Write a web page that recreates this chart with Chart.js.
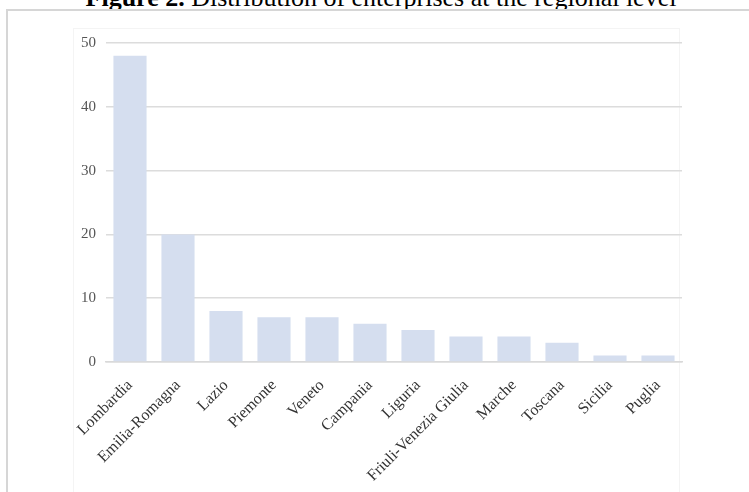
<!DOCTYPE html>
<html>
<head>
<meta charset="utf-8">
<script src="https://cdn.jsdelivr.net/npm/chart.js@4"></script>
<style>
  html, body { margin: 0; padding: 0; background: #fff; width: 749px; height: 492px; overflow: hidden; }
  #title {
    position: absolute; left: 0; top: -15px; width: 762px; text-align: center; line-height: 26px;
    font-family: 'Liberation Serif', serif; font-size: 26px; color: #000; white-space: nowrap;
  }
  #frame {
    position: absolute; left: 6px; top: 9px; width: 800px; height: 500px;
    border-left: 2px solid #d6d6d6; border-top: 2px solid #d6d6d6;
  }
  #inner {
    position: absolute; left: 73px; top: 28px; width: 605px; height: 500px;
    border: 1px solid #f4f4f4;
  }
  #wrap { position: absolute; left: 0; top: 0; width: 749px; height: 492px; }
</style>
</head>
<body>
<div id="title"><b>Figure 2.</b> Distribution of enterprises at the regional level</div>
<div id="frame"></div>
<div id="inner"></div>
<div id="wrap"><canvas id="regionChart" width="749" height="492"></canvas></div>
<script>
// Enterprises per region
const regions = ['Lombardia', 'Emilia-Romagna', 'Lazio', 'Piemonte', 'Veneto', 'Campania',
                 'Liguria', 'Friuli-Venezia Giulia', 'Marche', 'Toscana', 'Sicilia', 'Puglia'];
const enterprises = [48, 20, 8, 7, 7, 6, 5, 4, 4, 3, 1, 1];
const yTicks = [0, 10, 20, 30, 40, 50];

document.addEventListener('DOMContentLoaded', () => {
    const ctx = document.getElementById('regionChart').getContext('2d');

    new Chart(ctx, {
        type: 'bar',
        data: {
            labels: regions,
            datasets: [{
                data: enterprises,
                backgroundColor: '#d5deef',
                barPercentage: 0.69,
                categoryPercentage: 1.0
            }]
        },
        options: {
            responsive: false,
            animation: false,
            layout: { padding: { top: 43, right: 67, left: 0, bottom: 0 } },
            plugins: {
                legend: { display: false },
                tooltip: { enabled: false }
            },
            scales: {
                x: {
                    grid: { display: false },
                    border: { color: '#d9d9d9', width: 1.5 },
                    ticks: {
                        minRotation: 45,
                        maxRotation: 45,
                        padding: 6,
                        color: '#333333',
                        font: { family: 'Liberation Serif', size: 16 }
                    },
                    afterFit: (scale) => { scale.height = 130; }
                },
                y: {
                    min: 0,
                    max: yTicks[yTicks.length - 1],
                    afterBuildTicks: (scale) => { scale.ticks = yTicks.map(v => ({ value: v })); },
                    grid: { color: '#dcdcdc', lineWidth: 1.5, drawTicks: false },
                    border: { display: false },
                    ticks: {
                        padding: 10,
                        color: '#555555',
                        font: { family: 'Liberation Serif', size: 15 }
                    },
                    afterFit: (scale) => { scale.width = 106; }
                }
            }
        }
    });
});
</script>
</body>
</html>
